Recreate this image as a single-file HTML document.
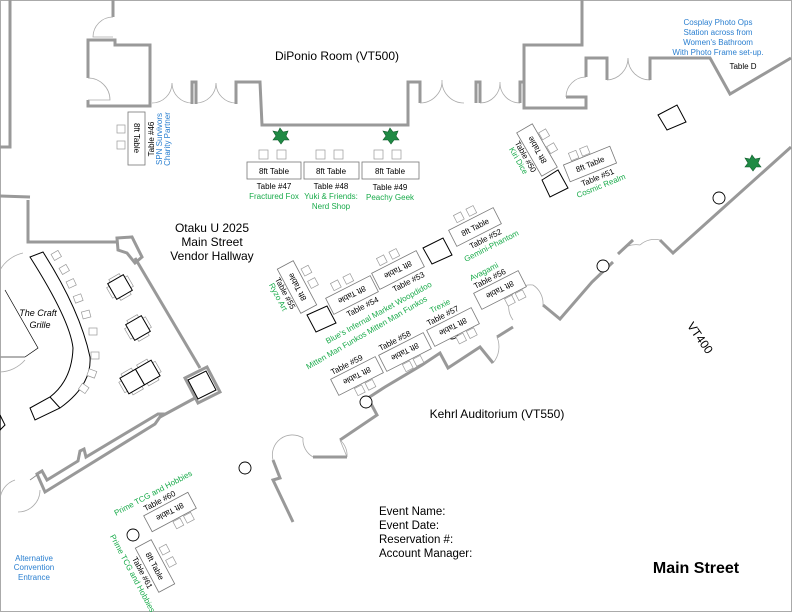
<!DOCTYPE html>
<html><head><meta charset="utf-8"><style>
html,body{margin:0;padding:0;background:#fff}
svg{display:block}
text{font-family:"Liberation Sans",Arial,sans-serif}
.w{fill:none;stroke:#999;stroke-width:3;stroke-linejoin:miter}
.d{fill:none;stroke:#aaa;stroke-width:0.8}
.t{fill:#fff;stroke:#777;stroke-width:0.8}
.c{fill:#fff;stroke:#999;stroke-width:0.7}
.k{fill:none;stroke:#000;stroke-width:1}
.s{font-size:8px;fill:#000}
.g{font-size:8px;fill:#1aab4b}
.b{font-size:8px;fill:#2a7fd0}
</style></head><body>
<svg width="792" height="612" viewBox="0 0 792 612" xmlns="http://www.w3.org/2000/svg">
<rect x="0.5" y="0.5" width="791" height="611" fill="none" stroke="#aaa" stroke-width="1"/>
<polyline class="w" points="10,0 10,147 0,147"/>
<line class="w" x1="0" y1="196" x2="30" y2="197"/>
<polyline class="w" points="113,0 113,17"/>
<path class="d" d="M113,17 A20,20 0 0 0 93,37 L113,37"/>
<polyline class="w" points="88,100 88,106 150,106 150,45 115,45 115,40 88,40 88,78"/>
<path class="d" d="M88,78 A22,22 0 0 1 110,100 L88,100"/>
<line class="w" x1="150" y1="104" x2="150" y2="84"/>
<path class="d" d="M152,103 A20,20 0 0 0 172,83 A20,20 0 0 0 192,103 M196,103 A20,20 0 0 0 216,83 A20,20 0 0 0 236,103"/>
<polyline class="w" points="192,104 192,82 196,82 196,104"/>
<polyline class="w" points="236,104 236,82 260,82 262,125 408,125 408,82 420,82 420,103"/>
<path class="d" d="M420,103 A22,22 0 0 0 442,80 M442,80 A22,22 0 0 0 464,103"/>
<polyline class="w" points="476,103 476,82 480,82 480,103"/>
<path class="d" d="M480,103 A20,20 0 0 0 500,82 M500,82 A20,20 0 0 0 520,103"/>
<polyline class="w" points="520,103 520,82 524,82 524,108 586,108 586,97 566,97"/>
<path class="d" d="M566,97 A20,20 0 0 1 586,77"/>
<polyline class="w" points="524,82 524,45 582,45 582,0"/>
<polyline class="w" points="586,77 586,58 607,58 607,80"/>
<path class="d" d="M607,80 A22,22 0 0 0 628,58 M628,58 A22,22 0 0 0 650,80"/>
<polyline class="w" points="650,80 650,58 710,58 730,94 791,58"/>
<polyline class="w" points="791,147 673,253 660,240"/>
<path class="d" d="M660,240 A22,22 0 0 0 640,245 M640,245 A22,22 0 0 0 618,254"/>
<polyline class="w" points="618,254 633,240"/>
<polyline class="w" points="613,262 592,282 560,319 543,305"/>
<path class="d" d="M543,305 A22,22 0 0 0 533,285 M533,285 A22,22 0 0 0 513,320"/>
<polyline class="w" points="513,327 497,337"/>
<path class="d" d="M497,337 A25,25 0 0 1 493,363"/>
<polyline class="w" points="493,363 480,347 448,368 440,353 422,365 385,387 368,398 377,415 340,440"/>
<path class="d" d="M340,440 A20,20 0 0 1 347,457 L340,440 M313,457 A20,20 0 0 1 303,438"/>
<polyline class="w" points="347,457 313,457"/>
<path class="d" d="M303,438 A20,20 0 0 0 273,460"/>
<polyline class="w" points="273,460 280,478 273,480 293,522"/>
<polyline class="w" points="28,200 28,242 118,242"/>
<polygon class="w" points="117,238 132,237 142,257 135,263 127,253 118,250"/>
<line class="w" x1="135" y1="258" x2="200" y2="368"/>
<polygon class="w" points="185,378 207,367 220,392 198,403"/>
<polygon class="k" points="188,380 206,371 216,390 198,399"/>
<polyline class="w" points="195,398 160,417"/>
<polygon class="w" points="162,414 155,424 45,492 37,474 42,471 47,480 78,461 80,451 84,449 86,457 158,414"/>
<line x1="37" y1="475" x2="30" y2="480" stroke="#888" stroke-width="0.8"/>
<path class="d" d="M40,490 A22,22 0 0 1 18,512 M15,480 A22,22 0 0 0 0,500"/>
<path class="k" d="M43,252 Q80,310 90,357 Q92,385 60,408 L35,420 L30,408 L50,397 Q72,380 73,348 Q70,320 30,257 Z" stroke-width="0.8"/>
<line class="k" x1="50" y1="397" x2="60" y2="408" stroke-width="0.8"/>
<polyline fill="none" stroke="#000" stroke-width="0.7" points="5,290 38,348 25,357"/>
<line x1="0" y1="357" x2="25" y2="357" stroke="#999" stroke-width="1.5"/>
<path class="d" d="M23,253 A35,35 0 0 0 0,270 M0,372 A35,35 0 0 0 25,360"/>
<polygon class="k" points="0,415 5,425 0,430" stroke-width="0.7"/>
<text x="38" y="316" font-size="9" font-style="italic" text-anchor="middle">The Craft</text>
<text x="40" y="328" font-size="9" font-style="italic" text-anchor="middle">Grille</text>
<g class="c">
<rect x="52" y="252" width="8" height="7" transform="rotate(-30 56 255)"/>
<rect x="60" y="266" width="8" height="7" transform="rotate(-30 64 269)"/>
<rect x="67" y="280" width="8" height="7" transform="rotate(-25 71 283)"/>
<rect x="74" y="295" width="8" height="7" transform="rotate(-20 78 298)"/>
<rect x="82" y="311" width="8" height="7" transform="rotate(-15 86 314)"/>
<rect x="89" y="328" width="8" height="7"/>
<rect x="91" y="352" width="8" height="7"/>
<rect x="88" y="370" width="8" height="7" transform="rotate(20 92 373)"/>
<rect x="80" y="385" width="8" height="7" transform="rotate(35 84 388)"/>
</g>
<g transform="translate(120,287) rotate(-30)"><rect class="c" x="-12" y="-6" width="3" height="12"/><rect class="c" x="9" y="-6" width="3" height="12"/><rect class="c" x="-6" y="-12" width="12" height="3"/><rect class="c" x="-6" y="9" width="12" height="3"/><rect x="-9" y="-9" width="18" height="18" fill="#fff" stroke="#000"/></g>
<g transform="translate(138,328) rotate(-30)"><rect class="c" x="-12" y="-6" width="3" height="12"/><rect class="c" x="9" y="-6" width="3" height="12"/><rect class="c" x="-6" y="-12" width="12" height="3"/><rect class="c" x="-6" y="9" width="12" height="3"/><rect x="-9" y="-9" width="18" height="18" fill="#fff" stroke="#000"/></g>
<g transform="translate(140,377) rotate(-30)"><rect class="c" x="-21" y="-6" width="3" height="12"/><rect class="c" x="18" y="-6" width="3" height="12"/><rect class="c" x="-15" y="-12" width="12" height="3"/><rect class="c" x="3" y="-12" width="12" height="3"/><rect class="c" x="-15" y="9" width="12" height="3"/><rect class="c" x="3" y="9" width="12" height="3"/><rect x="-18" y="-9" width="18" height="18" fill="#fff" stroke="#000"/><rect x="0" y="-9" width="18" height="18" fill="#fff" stroke="#000"/></g>
<text x="337" y="60" font-size="12" text-anchor="middle">DiPonio Room (VT500)</text>
<text x="212" y="232" font-size="12" text-anchor="middle">Otaku U 2025</text>
<text x="212" y="246" font-size="12" text-anchor="middle">Main Street</text>
<text x="212" y="260" font-size="12" text-anchor="middle">Vendor Hallway</text>
<text x="497" y="418" font-size="12" text-anchor="middle">Kehrl Auditorium (VT550)</text>
<text x="700" y="342" font-size="12" text-anchor="middle" transform="rotate(55 700 338)">VT400</text>
<text x="718" y="25" class="b" text-anchor="middle">Cosplay Photo Ops</text>
<text x="718" y="35" class="b" text-anchor="middle">Station across from</text>
<text x="718" y="45" class="b" text-anchor="middle">Women's Bathroom</text>
<text x="718" y="55" class="b" text-anchor="middle">With Photo Frame set-up.</text>
<text x="743" y="69" class="s" text-anchor="middle">Table D</text>
<text x="34" y="561" class="b" text-anchor="middle">Alternative</text>
<text x="34" y="570" class="b" text-anchor="middle">Convention</text>
<text x="34" y="580" class="b" text-anchor="middle">Entrance</text>
<text x="379" y="515" font-size="11.5">Event Name:</text>
<text x="379" y="529" font-size="11.5">Event Date:</text>
<text x="379" y="543" font-size="11.5">Reservation #:</text>
<text x="379" y="557" font-size="11.5">Account Manager:</text>
<text x="696" y="573" font-size="16" font-weight="bold" text-anchor="middle">Main Street</text>
<g fill="#1f8a44" stroke="#0e5a2a" stroke-width="0.6">
<polygon points="280,128 283,132 288,131 286,136 289,140 284,140 281,144 278,140 273,140 276,136 273,131 278,132"/>
<polygon points="390,128 393,132 398,131 396,136 399,140 394,140 391,144 388,140 383,140 386,136 383,131 388,132"/>
<polygon points="752,155 755,159 760,158 758,163 761,167 756,167 753,171 750,167 745,167 748,163 745,158 750,159"/>
</g>
<g fill="#fff" stroke="#000" stroke-width="0.9">
<circle cx="719" cy="198" r="6"/><circle cx="603" cy="266" r="6"/><circle cx="452" cy="333" r="6"/><circle cx="366" cy="402" r="6"/><circle cx="245" cy="468" r="6"/><circle cx="133" cy="535" r="6"/>
</g>
<polygon class="k" points="658,115 677,105 686,122 667,130"/>
<g class="c"><rect x="259" y="150" width="9" height="9"/><rect x="277" y="150" width="9" height="9"/><rect x="316" y="150" width="9" height="9"/><rect x="334" y="150" width="9" height="9"/><rect x="374" y="150" width="9" height="9"/><rect x="392" y="150" width="9" height="9"/></g>
<rect class="t" x="247" y="162" width="54" height="17"/><rect class="t" x="304" y="162" width="55" height="17"/><rect class="t" x="362" y="162" width="57" height="17"/>
<text x="274" y="174" class="s" text-anchor="middle">8ft Table</text><text x="331" y="174" class="s" text-anchor="middle">8ft Table</text><text x="390" y="174" class="s" text-anchor="middle">8ft Table</text>
<text x="274" y="189" class="s" text-anchor="middle">Table #47</text><text x="331" y="189" class="s" text-anchor="middle">Table #48</text><text x="390" y="190" class="s" text-anchor="middle">Table #49</text>
<text x="274" y="199" class="g" text-anchor="middle">Fractured Fox</text><text x="331" y="199" class="g" text-anchor="middle">Yuki &amp; Friends:</text><text x="331" y="209" class="g" text-anchor="middle">Nerd Shop</text><text x="390" y="200" class="g" text-anchor="middle">Peachy Geek</text>
<rect class="c" x="117" y="125" width="8" height="8"/><rect class="c" x="117" y="141" width="8" height="8"/>
<rect class="t" x="128" y="112" width="17" height="53"/>
<text class="s" text-anchor="middle" transform="translate(134,138) rotate(90)">8ft Table</text>
<text class="s" text-anchor="middle" transform="translate(154,139) rotate(-90)">Table #46</text>
<text class="b" text-anchor="middle" transform="translate(162,139) rotate(-90)">SPN Survivors</text>
<text class="b" text-anchor="middle" transform="translate(170,139) rotate(-90)">Charity Partner</text>
<g transform="translate(537,150) rotate(60)"><rect class="c" x="-14" y="-18" width="8" height="8"/><rect class="c" x="2" y="-18" width="8" height="8"/><rect class="t" x="-25" y="-9" width="50" height="18"/><text class="s" text-anchor="middle" transform="rotate(180) translate(0,3)">8ft Table</text><text class="s" x="0" y="16" text-anchor="middle">Table #50</text><text class="g" x="0" y="24" text-anchor="middle">Kiri Dice</text></g>
<polygon class="k" points="542,180 558,170 568,188 550,197"/>
<g transform="translate(590,164) rotate(-22)"><rect class="c" x="-16" y="-18" width="8" height="8"/><rect class="c" x="-4" y="-18" width="8" height="8"/><rect class="t" x="-25" y="-9" width="50" height="18"/><text class="s" x="0" y="3" text-anchor="middle">8ft Table</text><text class="s" x="2" y="18" text-anchor="middle">Table #51</text><text class="g" x="2" y="27" text-anchor="middle">Cosmic Realm</text></g>
<g transform="translate(297,287) rotate(62)"><rect class="c" x="-14" y="-20" width="8" height="8"/><rect class="c" x="0" y="-20" width="8" height="8"/><rect class="t" x="-25" y="-9" width="50" height="18"/><text class="s" text-anchor="middle" transform="rotate(180) translate(0,3)">8ft Table</text><text class="s" x="0" y="16" text-anchor="middle">Table #55</text><text class="g" x="0" y="24" text-anchor="middle">Ryzo Art</text></g>
<polygon class="k" points="307,315 327,306 336,323 316,332"/>
<g transform="translate(352,295) rotate(-27)"><rect class="c" x="-14" y="-20" width="8" height="8"/><rect class="c" x="0" y="-20" width="8" height="8"/><rect class="t" x="-25" y="-9" width="50" height="18"/><text class="s" text-anchor="middle" transform="rotate(180) translate(0,3)">8ft Table</text><text class="s" x="4" y="18" text-anchor="middle">Table #54</text></g>
<g transform="translate(398,270) rotate(-27)"><rect class="c" x="-14" y="-20" width="8" height="8"/><rect class="c" x="0" y="-20" width="8" height="8"/><rect class="t" x="-25" y="-9" width="50" height="18"/><text class="s" text-anchor="middle" transform="rotate(180) translate(0,3)">8ft Table</text><text class="s" x="4" y="18" text-anchor="middle">Table #53</text></g>
<text class="g" text-anchor="middle" transform="translate(380,315) rotate(-29)">Blue's Infernal Market Woopdidoo</text>
<polygon class="k" points="423,248 443,238 452,255 432,264"/>
<g transform="translate(475,227) rotate(-27)"><rect class="c" x="-14" y="-20" width="8" height="8"/><rect class="c" x="0" y="-20" width="8" height="8"/><rect class="t" x="-25" y="-9" width="50" height="18"/><text class="s" x="0" y="3" text-anchor="middle">8ft Table</text><text class="s" x="4" y="18" text-anchor="middle">Table #52</text><text class="g" x="6" y="27" text-anchor="middle">Gemini-Phantom</text></g>
<g transform="translate(357,376) rotate(-27)"><rect class="c" x="-8" y="10" width="8" height="8"/><rect class="c" x="4" y="10" width="8" height="8"/><rect class="t" x="-25" y="-9" width="50" height="18"/><text class="s" text-anchor="middle" transform="rotate(180) translate(0,3)">8ft Table</text><text class="s" x="-4" y="-12" text-anchor="middle">Table #59</text></g>
<g transform="translate(405,352) rotate(-27)"><rect class="c" x="-8" y="10" width="8" height="8"/><rect class="c" x="4" y="10" width="8" height="8"/><rect class="t" x="-25" y="-9" width="50" height="18"/><text class="s" text-anchor="middle" transform="rotate(180) translate(0,3)">8ft Table</text><text class="s" x="-4" y="-12" text-anchor="middle">Table #58</text></g>
<text class="g" text-anchor="middle" transform="translate(368,335) rotate(-30)">Mitten Man Funkos Mitten Man Funkos</text>
<g transform="translate(453,327) rotate(-27)"><rect class="c" x="-2" y="10" width="8" height="8"/><rect class="c" x="10" y="10" width="8" height="8"/><rect class="t" x="-25" y="-9" width="50" height="18"/><text class="s" text-anchor="middle" transform="rotate(180) translate(0,3)">8ft Table</text><text class="s" x="-4" y="-12" text-anchor="middle">Table #57</text><text class="g" x="-2" y="-22" text-anchor="middle">Trexie</text></g>
<g transform="translate(500,290) rotate(-27)"><rect class="c" x="0" y="10" width="8" height="8"/><rect class="c" x="12" y="10" width="8" height="8"/><rect class="t" x="-25" y="-9" width="50" height="18"/><text class="s" text-anchor="middle" transform="rotate(180) translate(0,3)">8ft Table</text><text class="s" x="-4" y="-12" text-anchor="middle">Table #56</text><text class="g" x="-6" y="-21" text-anchor="middle">Avagami</text></g>
<g transform="translate(170,512) rotate(-28)"><rect class="c" x="-2" y="10" width="8" height="8"/><rect class="c" x="10" y="10" width="8" height="8"/><rect class="t" x="-25" y="-9" width="50" height="18"/><text class="s" text-anchor="middle" transform="rotate(180) translate(0,3)">8ft Table</text><text class="s" x="-4" y="-12" text-anchor="middle">Table #60</text><text class="g" x="-6" y="-22" text-anchor="middle">Prime TCG and Hobbies</text></g>
<g transform="translate(155,566) rotate(62)"><rect class="c" x="-14" y="-20" width="8" height="8"/><rect class="c" x="0" y="-20" width="8" height="8"/><rect class="t" x="-25" y="-9" width="50" height="18"/><text class="s" x="0" y="3" text-anchor="middle">8ft Table</text><text class="s" x="0" y="17" text-anchor="middle">Table #61</text><text class="g" x="-4" y="26" text-anchor="middle">Prime TCG and Hobbies</text></g>
</svg>
</body></html>
